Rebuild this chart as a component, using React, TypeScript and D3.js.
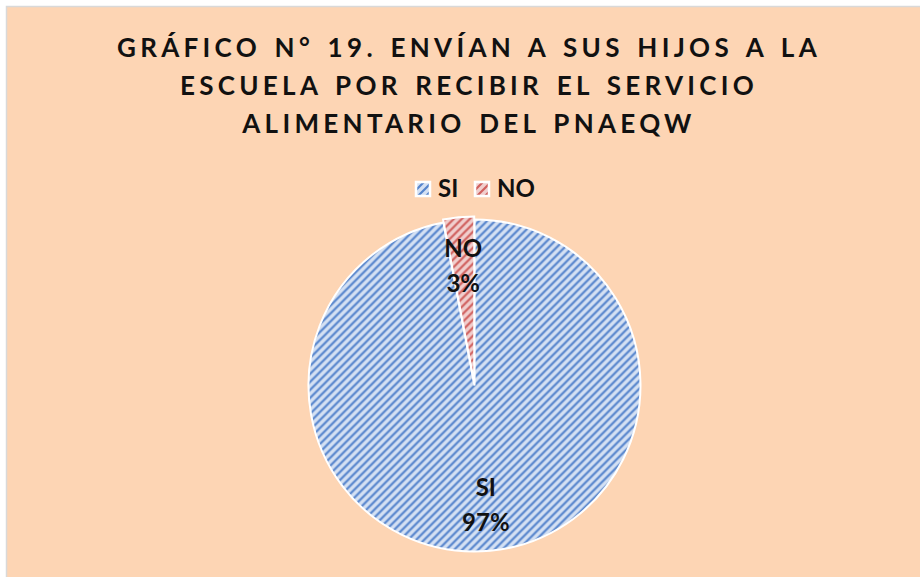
// @ts-nocheck
import React from 'react'
import * as d3 from 'd3'

const categories = ['SI', 'NO']
const values = [97, 3]
const percentLabels = ['97%', '3%']
const titleLines = [
  'GRÁFICO N° 19. ENVÍAN A SUS HIJOS A LA',
  'ESCUELA POR RECIBIR EL SERVICIO',
  'ALIMENTARIO DEL PNAEQW',
]

const fg = ['#5584CC', '#D0605E']
const bg = ['#D5E1F3', '#F1CFCE']
const font = 'Lato, "Open Sans", sans-serif'

const W = 920
const H = 577
const cx = 474.5
const cy = 385.5
const radius = 166

const App = () => {
  const pie = d3.pie().sort(null).value((d) => d.value)
  const slices = pie(categories.map((c, i) => ({ name: c, value: values[i], label: percentLabels[i], i })))
  const arc = d3.arc().innerRadius(0).outerRadius(radius)
  const labelArc = d3.arc().innerRadius(120).outerRadius(120)

  const explode = (d) => {
    if (d.data.name !== 'NO') return [0, 0]
    const a = (d.startAngle + d.endAngle) / 2
    return [Math.sin(a) * 3, -Math.cos(a) * 3]
  }

  const legendX = d3.scaleOrdinal().domain(categories).range([416, 475])

  return (
    <svg width={W} height={H} style={{ position: 'absolute', left: 0, top: 0 }}>
      <defs>
        {categories.map((c, i) => (
          <pattern key={c} id={`hatch${i}`} patternUnits="userSpaceOnUse" width={8} height={8}>
            <rect width={8} height={8} fill={bg[i]} />
            <path d="M-2,2 L2,-2 M0,8 L8,0 M6,10 L10,6" stroke={fg[i]} strokeWidth={2.2} />
          </pattern>
        ))}
      </defs>
      <rect width={W} height={H} fill="#fff" />
      <rect x={6.5} y={6.5} width={W} height={H} fill="#FDD5B4" stroke="#D9D9D9" strokeWidth={1.5} />

      {titleLines.map((t, i) => (
        <text
          key={i}
          x={469}
          y={57 + i * 38}
          textAnchor="middle"
          fontFamily={font}
          fontWeight="bold"
          fontSize={26}
          letterSpacing={4.3}
          wordSpacing={3}
          fill="#111"
        >
          {t}
        </text>
      ))}

      {categories.map((c, i) => (
        <g key={c} transform={`translate(${legendX(c)}, 182)`}>
          <rect x={0} y={0} width={14} height={14} fill={`url(#hatch${i})`} stroke="#fff" strokeWidth={2.5} />
          <text x={22} y={15} fontFamily={font} fontWeight="bold" fontSize={24} fill="#111">
            {c}
          </text>
        </g>
      ))}

      <g transform={`translate(${cx}, ${cy})`}>
        {slices
          .filter((d) => d.data.name === 'NO')
          .map((d) => (
            <path key="gap" d={arc(d)} fill="#fff" />
          ))}
        {slices.map((d) => {
          const [dx, dy] = explode(d)
          return (
            <path
              key={d.data.name}
              d={arc(d)}
              transform={`translate(${dx}, ${dy})`}
              fill={`url(#hatch${d.data.i})`}
              stroke="#fff"
              strokeWidth={2}
            />
          )
        })}
        {slices.map((d) => {
          const [x, y] = labelArc.centroid(d)
          return (
            <text key={d.data.name} textAnchor="middle" fontFamily={font} fontWeight="bold" fontSize={24} fill="#111">
              <tspan x={x} y={y - 9}>
                {d.data.name}
              </tspan>
              <tspan x={x} y={y + 26}>
                {d.data.label}
              </tspan>
            </text>
          )
        })}
      </g>
    </svg>
  )
}

export default App
